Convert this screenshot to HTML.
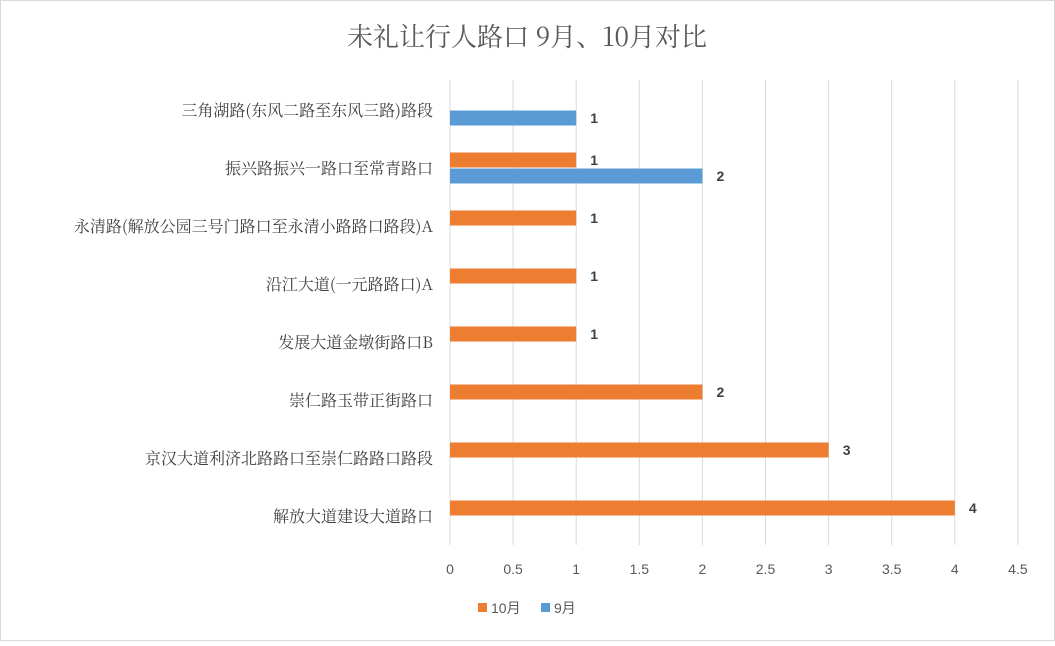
<!DOCTYPE html>
<html><head><meta charset="utf-8"><style>
body{margin:0;background:#fff;}
svg text{font-family:"Liberation Sans","Noto Sans CJK SC",sans-serif;}
</style></head><body>
<svg width="1055" height="641" xmlns="http://www.w3.org/2000/svg">
<rect x="0.5" y="0.5" width="1054" height="640" fill="#fff" stroke="#d9d9d9"/>
<text x="527" y="46" text-anchor="middle" font-size="26" fill="#595959" style='font-family:"Noto Serif CJK SC","Liberation Sans",serif'>未礼让行人路口 9月、10月对比</text>
<g id="grid"></g><g id="bars"></g><g id="labels"></g>
<g>
<rect x="478" y="603" width="9" height="9" fill="#ed7d31"/>
<text x="491" y="613" font-size="14" fill="#595959">10月</text>
<rect x="541" y="603" width="9" height="9" fill="#5b9bd5"/>
<text x="554" y="613" font-size="14" fill="#595959">9月</text>
</g>
</svg>
<script>
const categories=["解放大道建设大道路口","京汉大道利济北路路口至崇仁路路口路段","崇仁路玉带正街路口","发展大道金墩街路口B","沿江大道(一元路路口)A","永清路(解放公园三号门路口至永清小路路口路段)A","振兴路振兴一路口至常青路口","三角湖路(东风二路至东风三路)路段"];
const oct=[4,3,2,1,1,1,1,null];
const sep=[null,null,null,null,null,null,2,1];
const ticks=[0,0.5,1,1.5,2,2.5,3,3.5,4,4.5];
const NS="http://www.w3.org/2000/svg";
const x0=450,pxPer=126.2,yBottom=545,band=58;
const X=v=>x0+v*pxPer;
const Yc=i=>yBottom-band*(i+0.5);
function mk(tag,attrs,parent,txt){const e=document.createElementNS(NS,tag);for(const k in attrs)e.setAttribute(k,attrs[k]);if(txt!==undefined)e.textContent=txt;document.getElementById(parent).appendChild(e);return e;}
ticks.forEach(t=>{
 const l=mk("line",{x1:X(t),x2:X(t),y1:80,y2:yBottom,stroke:"#d9d9d9","stroke-width":1},"grid");
 
 
 const tx=mk("text",{x:X(t),y:574,"text-anchor":"middle","font-size":14,fill:"#595959"},"grid",String(t));
 
 
});
categories.forEach((c,i)=>{
 const t=mk("text",{x:433,y:Yc(i)+6,"text-anchor":"end","font-size":16,fill:"#404040",style:'font-family:"Noto Serif CJK SC","Liberation Sans",serif'},"labels",c);
 
 
 [[oct,"#ed7d31",-8,"oct"],[sep,"#5b9bd5",8,"sep"]].forEach(([arr,col,off,nm])=>{
  const v=arr[i]; if(v==null)return;
  const y=Yc(i)+off;
  const r=mk("rect",{x:X(0),y:y-7.5,width:X(v)-X(0),height:15,fill:col},"bars");
  
  
  const lb=mk("text",{x:X(v)+18,y:y+5,"text-anchor":"middle","font-size":14,"font-weight":"bold",fill:"#404040"},"labels",String(v));
  
  
 });
});
</script>
</body></html>
